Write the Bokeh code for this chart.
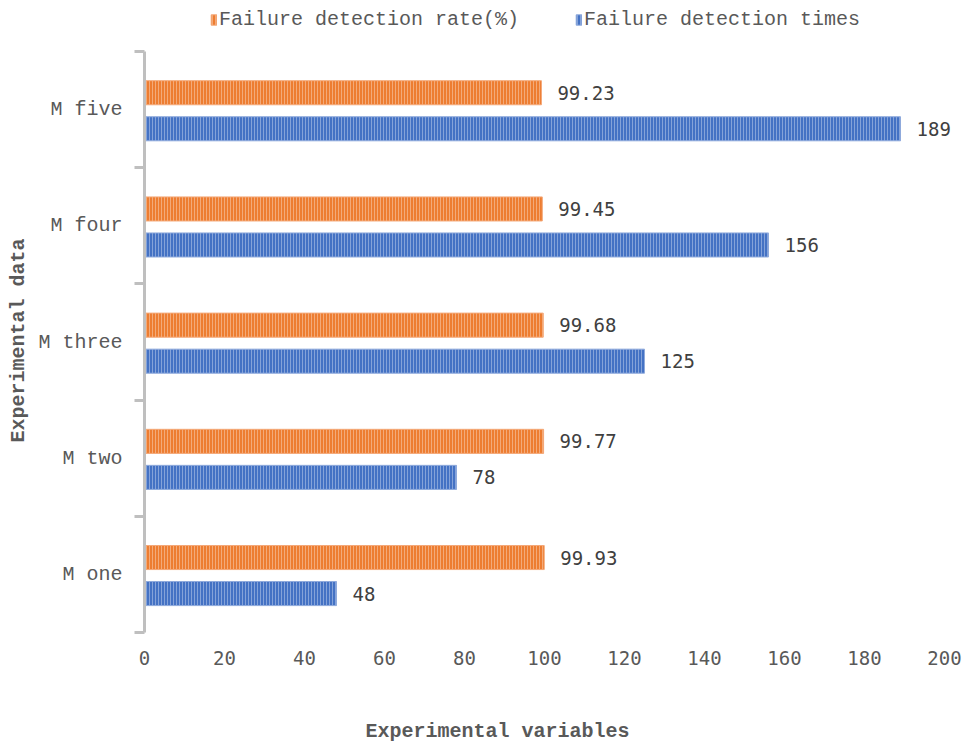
from bokeh.plotting import figure
from bokeh.models import (ColumnDataSource, Range1d, FixedTicker, Legend, LegendItem, LabelSet)
from bokeh.core.properties import value
from bokeh.embed import file_html
from bokeh.resources import INLINE

categories = ["M one", "M two", "M three", "M four", "M five"]
rate_values = [99.93, 99.77, 99.68, 99.45, 99.23]
times_values = [48, 78, 125, 156, 189]
x_ticks = [0, 20, 40, 60, 80, 100, 120, 140, 160, 180, 200]

ORANGE = "#ED7D31"
BLUE = "#4472C4"
TEXT = "#595959"
MONO = "Liberation Mono"
DIGITS = "DejaVu Sans Mono"
NBSP = "\u00a0"

n = len(categories)
idx = list(range(n))
rate_src = ColumnDataSource(dict(
    y=[i + 0.645 for i in idx], v=rate_values,
    lbl=["%.2f" % v for v in rate_values]))
times_src = ColumnDataSource(dict(
    y=[i + 0.335 for i in idx], v=times_values,
    lbl=["%d" % v for v in times_values]))

# frame spans up to the top/right edges so the legend and the end labels are not clipped
W, H = 970, 746
left, bottom_border, top_plot = 144, 114, 51
x_max = 200
frame_w = W - left
frame_h = H - bottom_border
x_end = x_max * frame_w / (944 - left)
y_end = n * frame_h / (frame_h - top_plot)

p = figure(width=W, height=H, output_backend="svg", toolbar_location=None,
           x_range=Range1d(0, x_end), y_range=Range1d(0, y_end),
           min_border_left=left, min_border_right=0, min_border_top=0,
           min_border_bottom=bottom_border)
p.outline_line_color = None
p.xgrid.visible = False
p.ygrid.visible = False
p.background_fill_color = "white"
p.border_fill_color = "white"

bar_h = 0.207
r_rate = p.hbar(y="y", right="v", left=0, height=bar_h, source=rate_src,
                fill_color=ORANGE, line_color="#F4A878", line_width=1,
                hatch_pattern="vertical_line", hatch_color="white",
                hatch_alpha=0.35, hatch_scale=3, hatch_weight=1)
r_times = p.hbar(y="y", right="v", left=0, height=bar_h, source=times_src,
                 fill_color=BLUE, line_color="#8FAADC", line_width=1,
                 hatch_pattern="vertical_line", hatch_color="white",
                 hatch_alpha=0.35, hatch_scale=3, hatch_weight=1)

for src in (rate_src, times_src):
    p.add_layout(LabelSet(x="v", y="y", text="lbl", source=src, x_offset=16,
                          text_baseline="middle", text_align="left",
                          text_font=value(DIGITS), text_font_size="19px",
                          text_color="#404040"))

# x axis
xa = p.xaxis[0]
xa.ticker = FixedTicker(ticks=x_ticks)
xa.axis_line_color = None
xa.major_tick_line_color = None
xa.minor_tick_line_color = None
xa.major_label_text_font = DIGITS
xa.major_label_text_font_size = "19px"
xa.major_label_text_color = TEXT
xa.major_label_standoff = 12
xa.axis_label = "Experimental variables" + NBSP * 10
xa.axis_label_text_font = MONO
xa.axis_label_text_font_style = "bold"
xa.axis_label_text_font_size = "20px"
xa.axis_label_text_color = TEXT
xa.axis_label_standoff = 52

# y axis
ya = p.yaxis[0]
ya.bounds = (0, n)
centers = [i + 0.5 for i in idx]
ya.ticker = FixedTicker(ticks=centers, minor_ticks=list(range(n + 1)))
ya.major_label_overrides = {c: name for c, name in zip(centers, categories)}
ya.major_tick_line_color = None
ya.major_tick_out = 0
ya.major_tick_in = 0
ya.minor_tick_line_color = "#BFBFBF"
ya.minor_tick_line_width = 3
ya.minor_tick_out = 10
ya.minor_tick_in = 0
ya.axis_line_color = "#BFBFBF"
ya.axis_line_width = 3
ya.major_label_text_font = MONO
ya.major_label_text_font_size = "20px"
ya.major_label_text_color = TEXT
ya.major_label_standoff = 12
ya.axis_label = "Experimental data" + NBSP * 4
ya.axis_label_text_font = MONO
ya.axis_label_text_font_style = "bold"
ya.axis_label_text_font_size = "20px"
ya.axis_label_text_color = TEXT
ya.axis_label_standoff = 5

legend = Legend(items=[LegendItem(label="Failure detection rate(%)", renderers=[r_rate]),
                       LegendItem(label="Failure detection times", renderers=[r_times])],
                orientation="horizontal", location=(66, frame_h - 31),
                label_text_font=MONO, label_text_font_size="20px",
                label_text_color=TEXT, glyph_width=7, glyph_height=13,
                label_standoff=2, spacing=56, border_line_color=None,
                background_fill_alpha=0, padding=4, margin=0)
p.add_layout(legend, "center")

open("out.html", "w").write(file_html(p, INLINE))
